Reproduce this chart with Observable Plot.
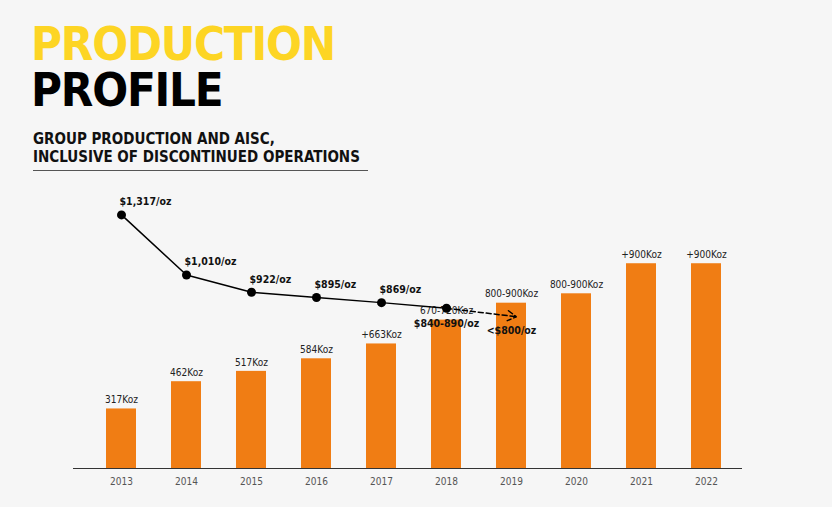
<!DOCTYPE html>
<html><head><meta charset="utf-8">
<script src="https://cdn.jsdelivr.net/npm/d3@7"></script>
<script src="https://cdn.jsdelivr.net/npm/@observablehq/plot@0.6"></script>
<style>
body{margin:0;background:#f6f6f6;font-family:"DejaVu Sans Condensed","DejaVu Sans",sans-serif;}
#wrap{position:relative;width:832px;height:507px;}
.t1{position:absolute;left:31px;top:22px;font-size:47px;font-weight:bold;color:#fdd524;letter-spacing:-1.2px;line-height:44px;}
.t2{position:absolute;left:31px;top:68px;font-size:47px;font-weight:bold;color:#000;letter-spacing:-1.2px;line-height:44px;}
.sub{position:absolute;left:33px;top:130px;font-size:15px;font-weight:bold;color:#111;line-height:18px;width:335px;border-bottom:1.5px solid #555;padding-bottom:4px;}
#chart{position:absolute;left:0;top:180px;}
</style></head><body>
<div id="wrap">
<div class="t1">PRODUCTION</div>
<div class="t2">PROFILE</div>
<div class="sub">GROUP PRODUCTION AND AISC,<br>INCLUSIVE OF DISCONTINUED OPERATIONS</div>
<div id="chart"></div>
</div>
<script>
const years = ["2013","2014","2015","2016","2017","2018","2019","2020","2021","2022"];
const production = [317,462,517,584,663,790,880,930,1090,1090];
const prodLabels = ["317Koz","462Koz","517Koz","584Koz","+663Koz","670-720Koz","800-900Koz","800-900Koz","+900Koz","+900Koz"];
const aiscYears = ["2013","2014","2015","2016","2017","2018"];
const aisc = [1317,1010,922,895,869,840];
const aiscLabels = ["$1,317/oz","$1,010/oz","$922/oz","$895/oz","$869/oz","$840-890/oz"];
const forecastYear = "2019", forecastAisc = 800, forecastLabel = "<$800/oz";

// map AISC ($/oz) onto the shared vertical scale
const toY = v => (166 + (v - 869) * 0.196) / 0.188;
const bars = years.map((y,i)=>({year:y, v:production[i], label:prodLabels[i]}));
const pts = aiscYears.map((y,i)=>({year:y, y:toY(aisc[i]), label:aiscLabels[i]}));
const last = pts[pts.length-1];

const chart = Plot.plot({
  width:832, height:327, marginTop:0, marginBottom:39, marginLeft:73, marginRight:90,
  style:{background:"transparent", fontFamily:"DejaVu Sans Condensed, DejaVu Sans, sans-serif"},
  x:{domain:years, range:[102,724], paddingInner:0.544, paddingOuter:0, label:null, tickSize:0},
  y:{domain:[0,1400], range:[288,25], axis:null},
  marks:[
    Plot.barY(bars,{x:"year", y:"v", fill:"#f07d14"}),
    Plot.ruleY([0],{stroke:"#333", strokeWidth:1}),
    Plot.text(bars,{x:"year", y:"v", text:"label", dy:-9, fontSize:10, fill:"#222"}),
    Plot.line(pts,{x:"year", y:"y", stroke:"#000", strokeWidth:1.5}),
    Plot.arrow([{x1:last.year, y1:last.y, x2:forecastYear, y2:toY(forecastAisc)}],{x1:"x1",y1:"y1",x2:"x2",y2:"y2", stroke:"#000", strokeWidth:1.5, strokeDasharray:"5,3", bend:0, headLength:10, insetEnd:-5}),
    Plot.dot(pts,{x:"year", y:"y", r:4.5, fill:"#000"}),
    Plot.text(pts.slice(0,5),{x:"year", y:"y", text:"label", dy:-13, dx:-2, textAnchor:"start", fontSize:10.5, fontWeight:"bold", fill:"#111"}),
    Plot.text([last],{x:"year", y:"y", text:"label", dy:15, fontSize:10.5, fontWeight:"bold", fill:"#111"}),
    Plot.text([{year:forecastYear, y:toY(forecastAisc)}],{x:"year", y:"y", text:()=>forecastLabel, dy:14, fontSize:10.5, fontWeight:"bold", fill:"#111"})
  ]
});
chart.querySelectorAll('[aria-label="x-axis tick label"] text').forEach(t=>{t.setAttribute("fill","#555");});
document.getElementById("chart").append(chart);
</script>
</body></html>
